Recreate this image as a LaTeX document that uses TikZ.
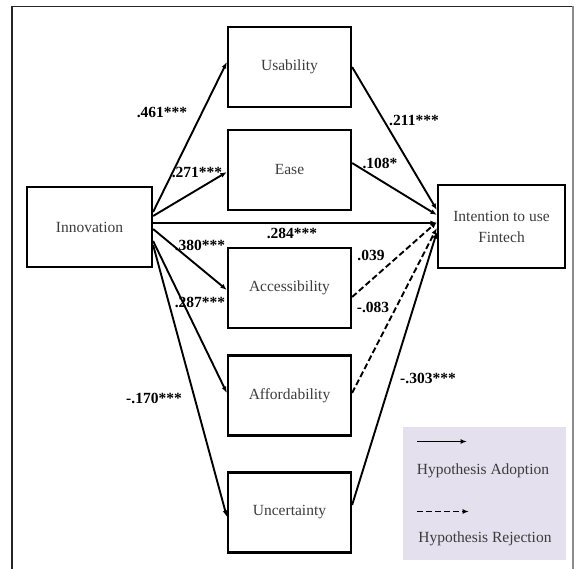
\documentclass[tikz,border=0pt]{standalone}
\usepackage{fontspec}
\setmainfont{Liberation Serif}
\usetikzlibrary{arrows.meta}
\definecolor{legfill}{RGB}{228,224,237}
\definecolor{boxtext}{RGB}{60,60,60}
\tikzset{
  box/.style={draw, line width=2.2pt, minimum width=123pt, minimum height=80pt, inner sep=0pt, font=\fontsize{15.5}{21}\selectfont, text=boxtext, align=center},
  conn/.style={line width=1.9pt, -{Latex[length=6.5pt,width=5pt]}},
  rej/.style={conn, dash pattern=on 6pt off 3pt},
  lab/.style={font=\fontsize{15.5}{18}\selectfont\bfseries, inner sep=0pt},
  legtext/.style={font=\fontsize{15.5}{18}\selectfont, text=boxtext, inner sep=0pt}
}
\begin{document}
\begin{tikzpicture}[x=1pt,y=-1pt]
\useasboundingbox (0,0) rectangle (576,569);
% frame
\draw[line width=1.8pt, black!85] (12,569) -- (12,6.5) -- (573,6.5);
\draw[line width=1.2pt, black!45] (573,6.5) -- (573,569);
% legend background
\node[fill=legfill, minimum width=163pt, minimum height=133pt, inner sep=0pt] (leg) at (484,493) {};
% boxes
\node[box] (usab) at (289.5,67) {Usability};
\node[box] (ease) at (289.5,170) {Ease};
\node[box] (acc) at (289.5,288) {Accessibility};
\node[box] (aff) at (289.5,395.5) {Affordability};
\node[box] (unc) at (289.5,512.5) {Uncertainty};
\node[box, minimum width=125pt] (inn) at (89.5,227) {Innovation};
\node[box, minimum width=127pt, minimum height=83pt] (int) at (501.5,226.5) {Intention to use\\Fintech};
% left connectors
\draw[conn] ([yshift=15pt]inn.east) -- ([yshift=5pt]usab.west);
\draw[conn] ([yshift=11pt]inn.east) -- ([yshift=-2pt]ease.west);
\draw[conn] ([yshift=4pt]inn.east) -- ([yshift=3.5pt]int.west);
\draw[conn] ([yshift=-2pt]inn.east) -- ([yshift=-2pt]acc.west);
\draw[conn] ([yshift=-14pt]inn.east) -- ([yshift=2.5pt]aff.west);
\draw[conn] ([yshift=-18pt]inn.east) -- ([yshift=-4.5pt]unc.west);
% right connectors
\draw[conn] (usab.east) -- ([yshift=16.5pt]int.west);
\draw[conn] ([yshift=7pt]ease.east) -- ([yshift=11.5pt]int.west);
\draw[rej] ([yshift=-9pt]acc.east) -- ([yshift=4.5pt]int.west);
\draw[rej] ([yshift=2.5pt]aff.east) -- ([yshift=-1.5pt]int.west);
\draw[conn] ([yshift=7.5pt]unc.east) -- ([yshift=-5.5pt]int.west);
% labels
\node[lab] (l1) at (162,112) {.461***};
\node[lab] (l2) at (197,172) {.271***};
\node[lab] (l3) at (414,120) {.211***};
\node[lab] (l4) at (380,163) {.108*};
\node[lab] (l5) at (292,233) {.284***};
\node[lab] (l6) at (200,245) {.380***};
\node[lab] (l7) at (371,255) {.039};
\node[lab] (l8) at (200,302) {.287***};
\node[lab] (l9) at (373,307) {-.083};
\node[lab] (l10) at (154,398) {-.170***};
\node[lab] (l11) at (428,378) {-.303***};
% legend
\coordinate (la1) at (417,441.5);
\coordinate (la2) at (467,441.5);
\coordinate (lb1) at (417,511.5);
\coordinate (lb2) at (469,511.5);
\draw[conn] (la1) -- (la2);
\draw[rej] (lb1) -- (lb2);
\node[legtext] (lt1) at (483,471) {Hypothesis Adoption};
\node[legtext] (lt2) at (485,539) {Hypothesis Rejection};
\end{tikzpicture}
\end{document}
